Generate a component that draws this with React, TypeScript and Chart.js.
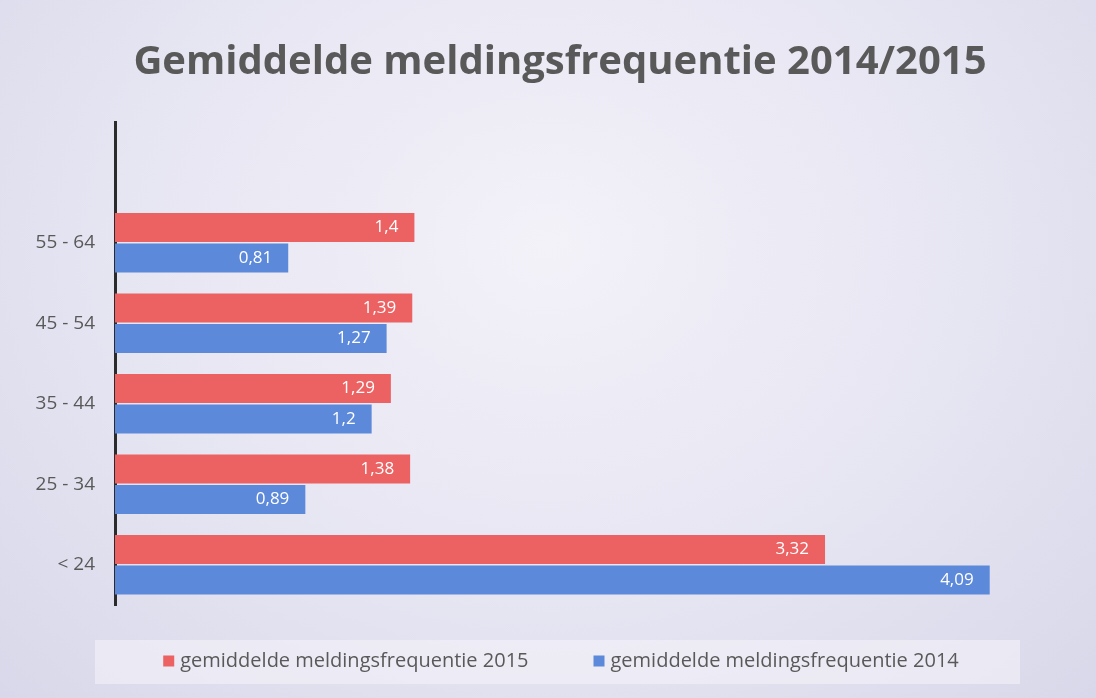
import React, { useEffect, useRef } from "react";
import { Chart, registerables } from "chart.js";

Chart.register(...registerables);

const categories = ["", "55 - 64", "45 - 54", "35 - 44", "25 - 34", "< 24"];
const values2015 = [null, 1.4, 1.39, 1.29, 1.38, 3.32];
const values2014 = [null, 0.81, 1.27, 1.2, 0.89, 4.09];
const seriesLabels = ["gemiddelde meldingsfrequentie 2015", "gemiddelde meldingsfrequentie 2014"];
const titleText = "Gemiddelde meldingsfrequentie 2014/2015";

const RED = "#ec6262";
const BLUE = "#5c89da";
const TEXT = "#595959";
const FONT = "'Open Sans', Lato, sans-serif";

const fmt = (v: number) => String(v).replace(".", ",");

const valueLabels = {
  id: "valueLabels",
  afterDatasetsDraw(chart: any) {
    const ctx = chart.ctx;
    ctx.save();
    ctx.font = `17px ${FONT}`;
    ctx.fillStyle = "#ffffff";
    ctx.textAlign = "right";
    ctx.textBaseline = "middle";
    chart.data.datasets.forEach((ds: any, i: number) => {
      const meta = chart.getDatasetMeta(i);
      meta.data.forEach((bar: any, j: number) => {
        const v = ds.data[j];
        if (v == null) return;
        const p = bar.getProps(["x", "y"], true);
        ctx.fillText(fmt(v), p.x - 16, p.y);
      });
    });
    ctx.restore();
  },
};

const titleAndLegend = {
  id: "titleAndLegend",
  beforeDraw(chart: any) {
    const ctx = chart.ctx;
    ctx.save();
    ctx.fillStyle = "rgba(245,244,250,0.55)";
    ctx.fillRect(95, 640, 925, 44);
    ctx.restore();
  },
  afterDraw(chart: any) {
    const ctx = chart.ctx;
    ctx.save();
    ctx.font = `bold 40px ${FONT}`;
    ctx.fillStyle = TEXT;
    ctx.textAlign = "center";
    ctx.textBaseline = "middle";
    ctx.fillText(titleText, 560, 63);

    ctx.font = `20px ${FONT}`;
    ctx.textAlign = "left";
    const box = 11;
    const gap = 6;
    const between = 65;
    const items = chart.data.datasets.map((ds: any) => ({
      text: ds.label,
      color: ds.backgroundColor,
      w: box + gap + ctx.measureText(ds.label).width,
    }));
    const total = items.reduce((s: number, it: any) => s + it.w, 0) + between * (items.length - 1);
    let x = 561 - total / 2;
    const y = 661;
    items.forEach((it: any) => {
      ctx.fillStyle = it.color;
      ctx.fillRect(x, y - box / 2, box, box);
      ctx.fillStyle = TEXT;
      ctx.fillText(it.text, x + box + gap, y);
      x += it.w + between;
    });
    ctx.restore();
  },
};

export default function App() {
  const ref = useRef<HTMLCanvasElement>(null);
  useEffect(() => {
    if (!ref.current) return;
    const chart = new Chart(ref.current, {
      type: "bar",
      data: {
        labels: categories,
        datasets: [
          { label: seriesLabels[0], data: values2015, backgroundColor: RED, barPercentage: 0.95, categoryPercentage: 0.76 },
          { label: seriesLabels[1], data: values2014, backgroundColor: BLUE, barPercentage: 0.95, categoryPercentage: 0.76 },
        ],
      },
      options: {
        indexAxis: "y",
        responsive: false,
        animation: false,
        devicePixelRatio: 1,
        layout: { padding: { left: 0, right: 40, top: 122, bottom: 93 } },
        scales: {
          x: { display: false, min: 0, max: 4.4 },
          y: {
            grid: { display: false, drawTicks: false },
            border: { display: true, color: "#2b2b2b", width: 3 },
            ticks: { color: TEXT, font: { size: 19, family: FONT }, padding: 20 },
            afterFit: (scale: any) => {
              scale.width = 115;
            },
          },
        },
        plugins: {
          legend: { display: false },
          tooltip: { enabled: false },
          title: { display: false },
        },
      },
      plugins: [valueLabels, titleAndLegend],
    });
    return () => chart.destroy();
  }, []);
  return (
    <div
      style={{
        position: "absolute",
        left: 0,
        top: 0,
        width: 1096,
        height: 698,
        background:
          "radial-gradient(ellipse at 50% 35%, #f3f2f9 0%, #e6e5f2 55%, #d9d8ea 100%)",
      }}
    >
      <canvas ref={ref} width={1096} height={698} />
    </div>
  );
}
